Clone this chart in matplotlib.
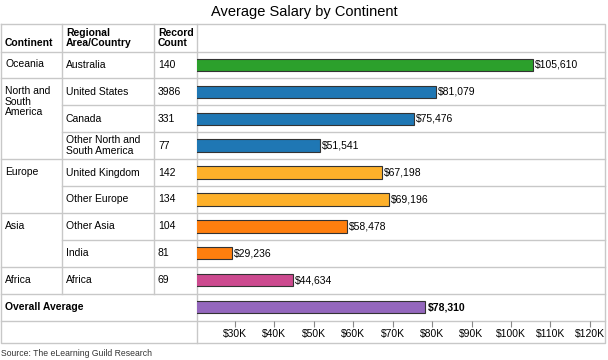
import matplotlib.pyplot as plt
import numpy as np

plt.rcParams['font.family'] = ['Liberation Sans', 'DejaVu Sans']

# data
continents = ["Oceania", "North and\nSouth\nAmerica", "Europe", "Asia", "Africa"]
group_sizes = [1, 3, 2, 2, 1]
regions = ["Australia", "United States", "Canada", "Other North and\nSouth America",
           "United Kingdom", "Other Europe", "Other Asia", "India", "Africa"]
counts = [140, 3986, 331, 77, 142, 134, 104, 81, 69]
salaries = [105610, 81079, 75476, 51541, 67198, 69196, 58478, 29236, 44634]
overall = 78310
group_colors = ["#2ca02c", "#1f77b4", "#fdb02a", "#ff7f0e", "#cc4a8f"]
overall_color = "#9467bd"
ticks = [30000, 40000, 50000, 60000, 70000, 80000, 90000, 100000, 110000, 120000]

W, H = 608, 360
fig = plt.figure(figsize=(W / 100, H / 100), dpi=100)

# table layer in pixel coords
tab = fig.add_axes([0, 0, 1, 1])
tab.set_xlim(0, W)
tab.set_ylim(H, 0)
tab.axis('off')

grid = "#c8c8c8"
x0, x1, x2, x3, x4 = 1, 62, 154, 197, 605
y_top, y_head = 23.5, 51.5
row_h = 26.9
n_rows = len(regions) + 1
y_rows = [y_head + i * row_h for i in range(n_rows + 1)]
y_bot = 343

tab.text(W / 2, 12, "Average Salary by Continent", ha='center', va='center', fontsize=10.5)

# outer box and column lines
tab.plot([x0, x4, x4, x0, x0], [y_top, y_top, y_bot, y_bot, y_top], color=grid, lw=1)
for xc in [x1, x2]:
    tab.plot([xc, xc], [y_top, y_rows[-2]], color=grid, lw=1)
tab.plot([x3, x3], [y_top, y_bot], color=grid, lw=1)
tab.plot([x0, x4], [y_head, y_head], color=grid, lw=1)

# row lines: continent column only at group breaks
ends = np.cumsum(group_sizes)
for i in range(1, n_rows + 1):
    y = y_rows[i]
    left = x0 if i in ends or i >= len(regions) else x1
    tab.plot([left, x4], [y, y], color=grid, lw=1)

hs = dict(fontsize=7.5, fontweight='bold', va='bottom')
tab.text(x0 + 4, y_head - 4, "Continent", ha='left', **hs)
tab.text(x1 + 4, y_head - 4, "Regional\nArea/Country", ha='left', linespacing=1.0, **hs)
tab.text(x2 + 4, y_head - 4, "Record\nCount", ha='left', linespacing=1.0, **hs)

start = 0
for c, n in zip(continents, group_sizes):
    top = (y_rows[start] + y_rows[start + 1]) / 2 - 5.5
    tab.text(x0 + 4, top, c, ha='left', va='top', fontsize=7.5, linespacing=1.05)
    start += n
for i, (r, k) in enumerate(zip(regions, counts)):
    yc = (y_rows[i] + y_rows[i + 1]) / 2
    tab.text(x1 + 4, yc, r, ha='left', va='center', fontsize=7.5, linespacing=1.05)
    tab.text(x2 + 4, yc, str(k), ha='left', va='center', fontsize=7.5)
yc = (y_rows[-2] + y_rows[-1]) / 2
tab.text(x0 + 4, yc, "Overall Average", ha='left', va='center', fontsize=7.5, fontweight='bold')

tab.text(1, 354, "Source: The eLearning Guild Research", ha='left', va='center', fontsize=6.2, color="#333333")

# bar chart
ax = fig.add_axes([x3 / W, 1 - y_rows[-1] / H, (x4 - x3) / W, (y_rows[-1] - y_head) / H])
ax.patch.set_alpha(0)
colors = []
for col, n in zip(group_colors, group_sizes):
    colors += [col] * n
vals = salaries + [overall]
ypos = np.arange(len(vals))
ax.barh(ypos, vals, height=0.46, color=colors + [overall_color], edgecolor="#333333", linewidth=0.8)
for y, v in zip(ypos, vals):
    ax.text(v + 500, y, "${:,}".format(v), va='center', ha='left', fontsize=7.5,
            fontweight='bold' if y == len(vals) - 1 else 'normal')
ax.set_xlim(20400, 20400 + (x4 - x3) / 3.944 * 1000)
ax.set_ylim(len(vals) - 0.5, -0.5)
ax.set_yticks([])
for s in ax.spines.values():
    s.set_visible(False)
ax.set_xticks(ticks)
ax.set_xticklabels(["${}K".format(t // 1000) for t in ticks], fontsize=7.5)
ax.tick_params(axis='x', length=4, color="#888888", pad=2)

fig.savefig("out.png", dpi=100)
